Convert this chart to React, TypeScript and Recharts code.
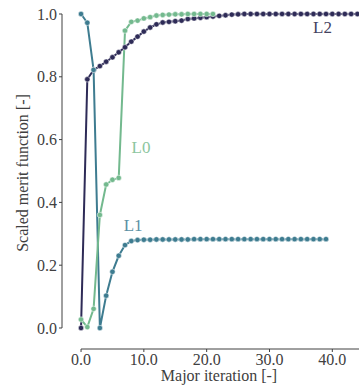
import { LineChart, Line, XAxis, YAxis, ReferenceLine, ReferenceDot, Label } from "recharts";

// scaled merit function per major iteration (index = iteration)
const l0Values = [
  0.027, 0.003, 0.061, 0.36, 0.457, 0.472, 0.478, 0.947, 0.975, 0.979, 0.986,
  0.99, 0.995, 0.997, 0.998, 0.999, 0.999, 1.0, 1.0, 1.0, 1.0, 1.0,
];
const l1Values = [
  1.0, 0.972, 0.822, 0.0, 0.103, 0.179, 0.23, 0.264, 0.277, 0.28, 0.281,
  0.281, 0.282, 0.282, 0.282, 0.282, 0.282, 0.282, 0.283, 0.283, 0.283,
  0.283, 0.283, 0.283, 0.283, 0.283, 0.283, 0.283, 0.283, 0.283, 0.283,
  0.283, 0.283, 0.283, 0.283, 0.283, 0.283, 0.283, 0.283, 0.283,
];
const l2Values = [
  0.0, 0.792, 0.822, 0.834, 0.848, 0.862, 0.878, 0.894, 0.912, 0.928, 0.944,
  0.957, 0.967, 0.973, 0.975, 0.977, 0.979, 0.984, 0.986, 0.988, 0.99, 0.992,
  0.994, 0.996, 0.998, 0.999, 1.0, 1.0, 1.0, 1.0, 1.0, 1.0, 1.0, 1.0, 1.0,
  1.0, 1.0, 1.0, 1.0, 1.0, 1.0, 1.0, 1.0, 1.0, 1.0,
];
const xTicks = [0, 10, 20, 30, 40];
const yTicks = [0, 0.2, 0.4, 0.6, 0.8, 1.0];

const toPoints = (vals: number[]) => vals.map((v, i) => ({ iter: i, value: v }));

const series = [
  { name: "L2", data: toPoints(l2Values), color: "#2e2b57", text: "#45425f", at: { x: 38.45, y: 0.959 } },
  { name: "L1", data: toPoints(l1Values), color: "#3e7c90", text: "#5b90a4", at: { x: 8.3, y: 0.328 } },
  { name: "L0", data: toPoints(l0Values), color: "#73b98e", text: "#8cc6a0", at: { x: 9.55, y: 0.576 } },
];

const FONT = "Liberation Serif, DejaVu Serif, serif";
const INK = "#404040";
const X_MIN = -3.03;
const X_MAX = 44.25;
const Y_MIN = -0.0669;
const Y_MAX = 1.035;

export default function App() {
  return (
    <div
      style={{
        position: "absolute",
        left: 0,
        top: 0,
        width: 363,
        height: 388,
        background: "#fff",
        fontFamily: FONT,
      }}
    >
      <LineChart
        width={363}
        height={388}
        margin={{ top: 3, right: 4, bottom: 0, left: 0 }}
        style={{ fontFamily: FONT }}
      >
        <XAxis
          dataKey="iter"
          type="number"
          domain={[X_MIN, X_MAX]}
          allowDataOverflow
          ticks={xTicks}
          tickFormatter={(v: number) => v.toFixed(1)}
          axisLine={false}
          tickLine={{ stroke: INK }}
          tickSize={3}
          tickMargin={2}
          height={39}
          tick={{ fill: INK, fontSize: 16, fontFamily: FONT }}
        >
          <Label
            content={() => (
              <text x={219} y={381} textAnchor="middle" fill={INK} fontSize={16} fontFamily={FONT}>
                Major iteration [-]
              </text>
            )}
          />
        </XAxis>
        <YAxis
          type="number"
          domain={[Y_MIN, Y_MAX]}
          allowDataOverflow
          ticks={yTicks}
          tickFormatter={(v: number) => v.toFixed(1)}
          axisLine={false}
          tickLine={{ stroke: INK }}
          tickSize={3}
          tickMargin={2}
          width={62}
          tick={{ fill: INK, fontSize: 16, fontFamily: FONT }}
        >
          <Label
            content={() => (
              <text
                transform="translate(22,173) rotate(-90)"
                textAnchor="middle"
                dominantBaseline="central"
                fill={INK}
                fontSize={16}
                fontFamily={FONT}
              >
                Scaled merit function [-]
              </text>
            )}
          />
        </YAxis>
        <ReferenceLine
          segment={[{ x: X_MIN, y: 0 }, { x: X_MIN, y: 1 }]}
          stroke={INK}
          strokeWidth={1}
          ifOverflow="visible"
        />
        <ReferenceLine
          segment={[{ x: 0, y: Y_MIN }, { x: X_MAX, y: Y_MIN }]}
          stroke={INK}
          strokeWidth={1}
          ifOverflow="visible"
        />
        {series.map((s) => (
          <Line
            key={s.name}
            data={s.data}
            dataKey="value"
            type="linear"
            stroke={s.color}
            strokeWidth={2}
            dot={{ r: 2.7, fill: s.color, stroke: "#ffffff", strokeWidth: 0.5 }}
            isAnimationActive={false}
          />
        ))}
        {series.map((s) => (
          <ReferenceDot
            key={"lbl" + s.name}
            x={s.at.x}
            y={s.at.y}
            r={0}
            fill="none"
            stroke="none"
            label={{ value: s.name, position: "center", fill: s.text, fontSize: 17, fontFamily: FONT }}
          />
        ))}
      </LineChart>
    </div>
  );
}
